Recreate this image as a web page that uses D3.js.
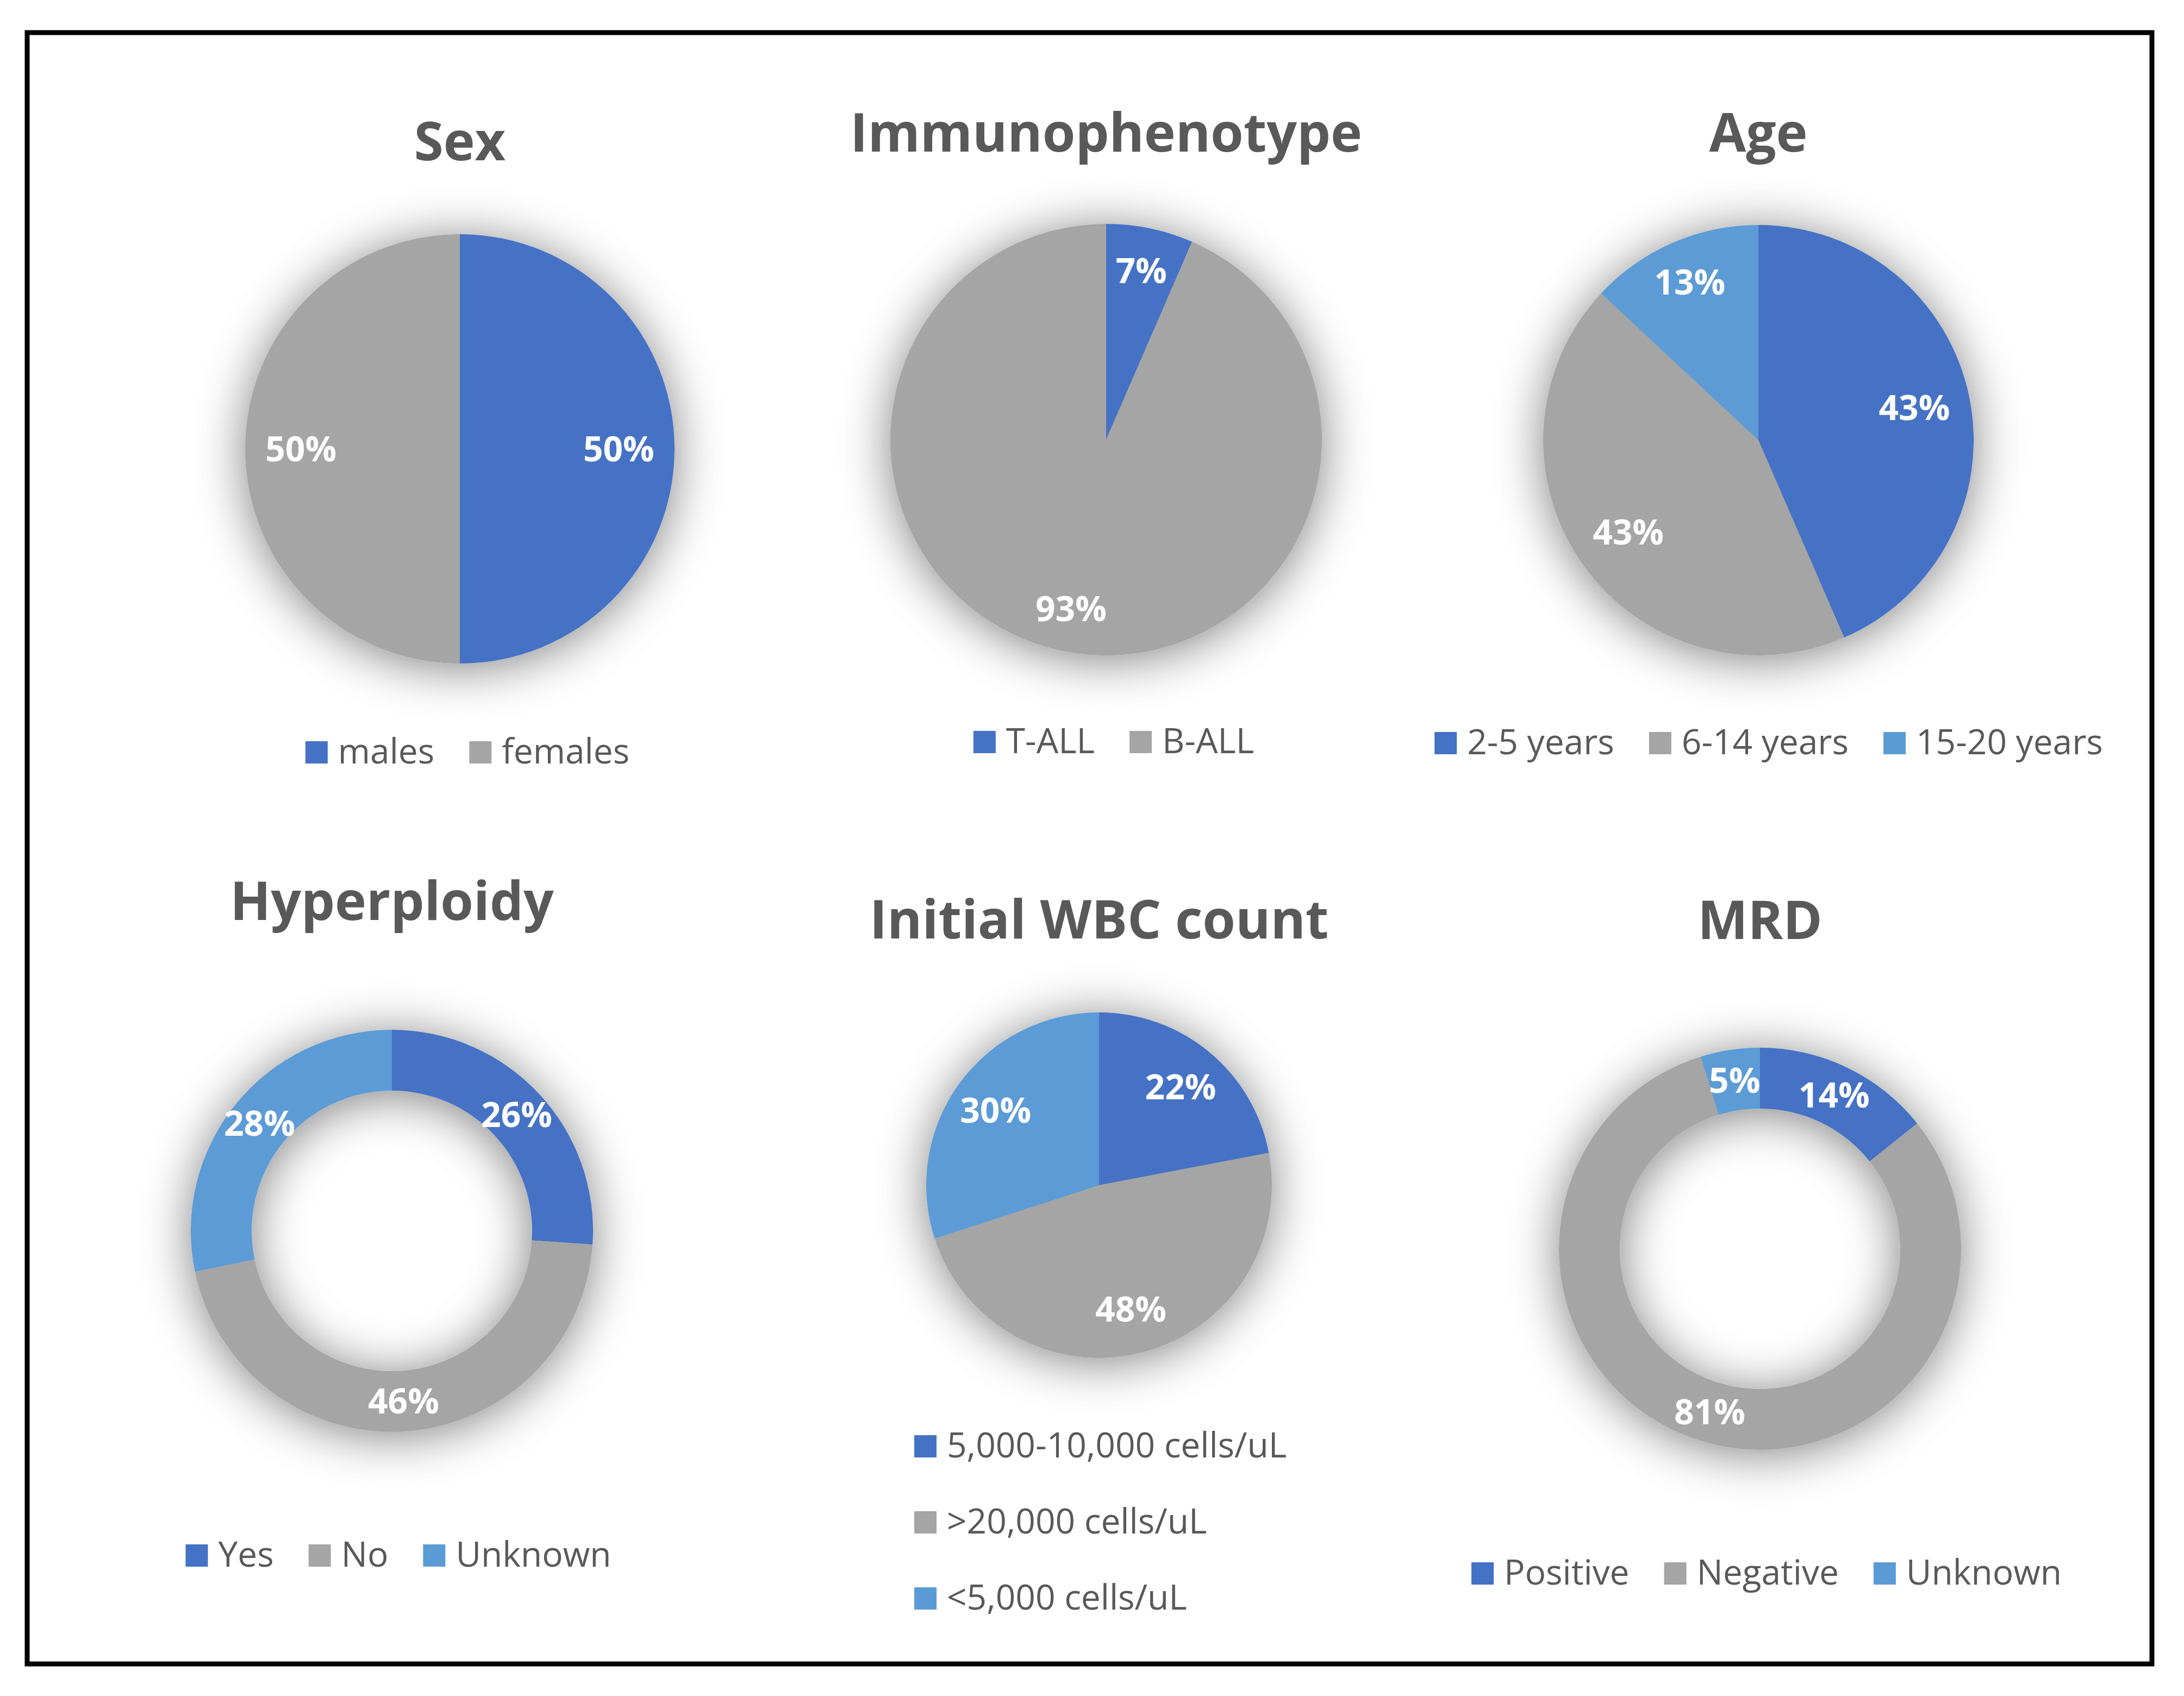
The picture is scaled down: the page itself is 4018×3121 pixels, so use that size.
<!DOCTYPE html>
<html>
<head>
<meta charset="utf-8">
<script src="https://cdn.jsdelivr.net/npm/d3@7"></script>
<style>
  html, body { margin: 0; padding: 0; background: #fff; }
</style>
</head>
<body>
<div id="chart"></div>
<script>
// group sizes
const sexLabels = ["males", "females"];
const sexValues = [23, 23];

const immunoLabels = ["T-ALL", "B-ALL"];
const immunoValues = [3, 43];

const ageLabels = ["2-5 years", "6-14 years", "15-20 years"];
const ageValues = [20, 20, 6];

const hyperLabels = ["Yes", "No", "Unknown"];
const hyperValues = [12, 21, 13];

const wbcLabels = ["5,000-10,000 cells/uL", ">20,000 cells/uL", "<5,000 cells/uL"];
const wbcValues = [22, 48, 30];

const mrdLabels = ["Positive", "Negative", "Unknown"];
const mrdValues = [3, 17, 1];

const palette = ["#4472C4", "#A5A5A5", "#5B9BD5"];

const W = 4018, H = 3121;
const TEXT = "#595959";
const FONT = "'Open Sans', 'Noto Sans', sans-serif";

// panel layout (positions only, data comes from the arrays above)
const panels = [
  { title: "Sex", labels: sexLabels, values: sexValues,
    cx: 846, cy: 826, r: 395, hole: 0, titleY: 295, legendX: 860, legendY: 1405 },
  { title: "Immunophenotype", labels: immunoLabels, values: immunoValues,
    cx: 2035, cy: 809, r: 397, hole: 0, titleY: 279, legendX: 2049, legendY: 1386 },
  { title: "Age", labels: ageLabels, values: ageValues,
    cx: 3235, cy: 810, r: 396, hole: 0, titleY: 279, legendX: 3254, legendY: 1388 },
  { title: "Hyperploidy", labels: hyperLabels, values: hyperValues,
    cx: 721, cy: 2265, r: 370, hole: 258, titleY: 1693, legendX: 733, legendY: 2883 },
  { title: "Initial WBC count", labels: wbcLabels, values: wbcValues,
    cx: 2022, cy: 2181, r: 318, hole: 0, titleY: 1727, legendX: 1682, legendY: 2682,
    vertical: true, rowStep: 140 },
  { title: "MRD", labels: mrdLabels, values: mrdValues,
    cx: 3238, cy: 2298, r: 370, hole: 258, titleY: 1728, legendX: 3250, legendY: 2916 }
];

const svg = d3.select("#chart")
  .append("svg")
  .attr("width", W)
  .attr("height", H)
  .style("display", "block");

// soft office-style glow under each pie
const filter = svg.append("defs").append("filter")
  .attr("id", "glow")
  .attr("x", "-60%").attr("y", "-60%")
  .attr("width", "220%").attr("height", "220%");
filter.append("feGaussianBlur").attr("in", "SourceAlpha").attr("stdDeviation", 46).attr("result", "blur");
filter.append("feOffset").attr("in", "blur").attr("dy", 8).attr("result", "off");
filter.append("feFlood").attr("flood-color", "#000").attr("flood-opacity", 0.5).attr("result", "col");
filter.append("feComposite").attr("in", "col").attr("in2", "off").attr("operator", "in").attr("result", "shadow");
const merge = filter.append("feMerge");
merge.append("feMergeNode").attr("in", "shadow");
merge.append("feMergeNode").attr("in", "SourceGraphic");

svg.append("rect")
  .attr("x", 50).attr("y", 60)
  .attr("width", 3909).attr("height", 3002)
  .attr("fill", "#fff")
  .attr("stroke", "#000")
  .attr("stroke-width", 9);

const color = d3.scaleOrdinal().range(palette);
const pct = d3.format(".0%");

function drawPanel(p) {
  const rows = p.labels.map((label, i) => ({ label, value: p.values[i] }));
  const total = d3.sum(rows, d => d.value);
  color.domain(p.labels);

  const g = svg.append("g");

  g.append("text")
    .attr("x", p.cx)
    .attr("y", p.titleY)
    .attr("text-anchor", "middle")
    .style("font-family", FONT)
    .style("font-weight", 700)
    .style("font-size", "98px")
    .style("fill", TEXT)
    .text(p.title);

  const pie = d3.pie().sort(null).value(d => d.value);
  const arcs = pie(rows);
  const arc = d3.arc().innerRadius(p.hole).outerRadius(p.r);

  const chart = g.append("g")
    .attr("transform", `translate(${p.cx}, ${p.cy})`);

  chart.append("g")
    .attr("filter", "url(#glow)")
    .selectAll("path")
    .data(arcs)
    .enter()
    .append("path")
    .attr("d", arc)
    .attr("fill", d => color(d.data.label));

  chart.selectAll(".lbl")
    .data(arcs)
    .enter()
    .append("text")
    .attr("class", "lbl")
    .attr("transform", d => {
      const share = d.data.value / total;
      let lr;
      if (p.hole > 0) lr = (p.r + p.hole) / 2;
      else lr = p.r * (share < 0.15 || share > 0.85 ? 0.8 : 0.74);
      const c = d3.arc().innerRadius(lr).outerRadius(lr).centroid(d);
      return `translate(${c[0]}, ${c[1]})`;
    })
    .attr("dy", "0.36em")
    .attr("text-anchor", "middle")
    .style("font-family", FONT)
    .style("font-weight", 700)
    .style("font-size", "64px")
    .style("fill", "#fff")
    .text(d => pct(d.data.value / total));

  // legend
  const box = 41, gapText = 19, gapItem = 64;
  const legend = g.append("g");
  const items = legend.selectAll(".item")
    .data(rows)
    .enter()
    .append("g")
    .attr("class", "item");

  items.append("rect")
    .attr("width", box)
    .attr("height", box)
    .attr("y", -box)
    .attr("fill", d => color(d.label));

  items.append("text")
    .attr("x", box + gapText)
    .attr("y", 0)
    .style("font-family", FONT)
    .style("font-size", "64px")
    .style("fill", TEXT)
    .text(d => d.label);

  if (p.vertical) {
    items.attr("transform", (d, i) => `translate(${p.legendX}, ${p.legendY + i * p.rowStep})`);
  } else {
    const widths = [];
    items.each(function() {
      widths.push(box + gapText + d3.select(this).select("text").node().getComputedTextLength());
    });
    const full = d3.sum(widths) + gapItem * (widths.length - 1);
    let x = p.legendX - full / 2;
    items.attr("transform", (d, i) => {
      const t = `translate(${x}, ${p.legendY})`;
      x += widths[i] + gapItem;
      return t;
    });
  }
}

panels.forEach(drawPanel);
</script>
</body>
</html>
